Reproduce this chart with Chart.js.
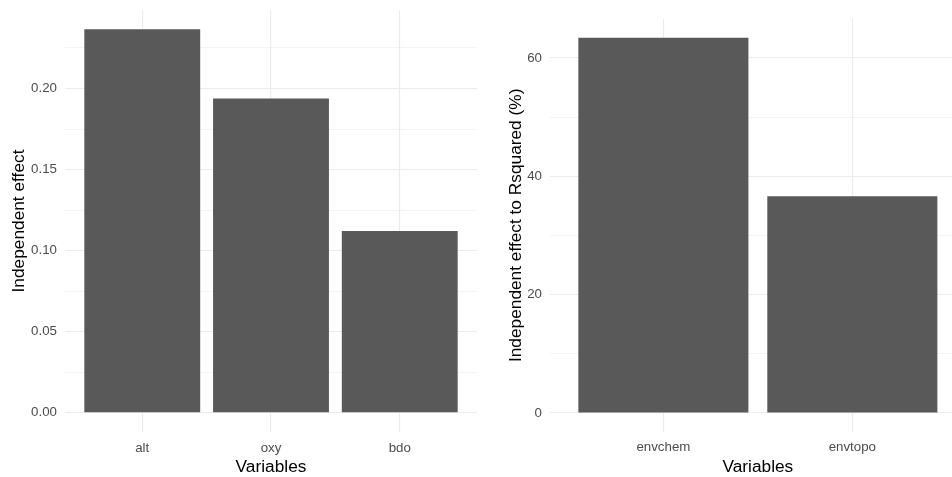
<!DOCTYPE html>
<html>
<head>
<meta charset="utf-8">
<script src="https://cdn.jsdelivr.net/npm/chart.js@4"></script>
<style>
  body { margin: 0; background: #fff; }
  #wrap { position: relative; width: 952px; height: 477px; overflow: hidden; }
  #left { position: absolute; left: 0; top: 0; }
  #right { position: absolute; left: 480px; top: 0; }
</style>
</head>
<body>
<div id="wrap">
  <canvas id="left" width="480" height="477"></canvas>
  <canvas id="right" width="500" height="477"></canvas>
</div>
<script>
// left panel data
const leftCats = ['alt', 'oxy', 'bdo'];
const leftValues = [0.2366, 0.1938, 0.1121];
const leftTicks = [0, 0.05, 0.10, 0.15, 0.20];
const leftMinor = [0.025, 0.075, 0.125, 0.175, 0.225];

// right panel data
const rightCats = ['envchem', 'envtopo'];
const rightValues = [63.4, 36.6];
const rightTicks = [0, 20, 40, 60];
const rightMinor = [10, 30, 50];

const FONT = '"Liberation Sans", Arial, sans-serif';

function makeChart(id, cats, values, ticks, minor, yTitle, opts) {
    const maxV = Math.max(...values);
    const yMin = -maxV * 0.05, yMax = maxV * 1.05;
    const allTicks = ticks.concat(minor).sort((a, b) => a - b);

    return new Chart(document.getElementById(id), {
        type: 'bar',
        data: {
            datasets: [{
                data: values.map((v, i) => ({ x: i, y: v })),
                backgroundColor: '#595959',
                borderWidth: 0,
                categoryPercentage: 1,
                barPercentage: 0.9
            }]
        },
        options: {
            responsive: false,
            animation: false,
            events: [],
            layout: { padding: { left: 0, right: opts.rightPad, top: opts.topPad, bottom: 0 } },
            plugins: { legend: { display: false }, tooltip: { enabled: false } },
            scales: {
                x: {
                    type: 'linear',
                    offset: false,
                    min: -0.6,
                    max: cats.length - 1 + 0.6,
                    afterBuildTicks: s => { s.ticks = cats.map((c, i) => ({ value: i })); },
                    afterFit: s => {
                        s.height = opts.xHeight;
                        s.paddingLeft = 0; s.paddingRight = 0;
                    },
                    border: { display: false },
                    grid: { offset: false, drawTicks: false, color: '#ebebeb', lineWidth: 1.1 },
                    ticks: {
                        autoSkip: false, maxRotation: 0, padding: 8,
                        color: '#4d4d4d', font: { family: FONT, size: 13.3 },
                        callback: v => cats[v]
                    },
                    title: {
                        display: true, text: 'Variables', color: '#000',
                        font: { family: FONT, size: 17.3 }, padding: { top: 0, bottom: -1 }
                    }
                },
                y: {
                    min: yMin,
                    max: yMax,
                    afterBuildTicks: s => { s.ticks = allTicks.map(v => ({ value: v })); },
                    afterFit: s => {
                        s.width = opts.yWidth;
                        s.paddingTop = 0; s.paddingBottom = 0;
                    },
                    border: { display: false },
                    grid: {
                        drawTicks: false, color: '#ebebeb',
                        lineWidth: c => minor.includes(c.tick.value) ? 0.6 : 1.1
                    },
                    ticks: {
                        padding: 8, color: '#4d4d4d', font: { family: FONT, size: 13.3 },
                        callback: v => minor.includes(v) ? '' : opts.fmt(v)
                    },
                    title: {
                        display: true, text: yTitle, color: '#000',
                        font: { family: FONT, size: 17.3 }, padding: { top: opts.yTitlePad, bottom: 0 }
                    }
                }
            }
        }
    });
}

makeChart('left', leftCats, leftValues, leftTicks, leftMinor, 'Independent effect', {
    rightPad: 3, topPad: 10, xHeight: 45, yWidth: 65, yTitlePad: 8.5,
    fmt: v => v.toFixed(2)
});

makeChart('right', rightCats, rightValues, rightTicks, rightMinor, 'Independent effect to Rsquared (%)', {
    rightPad: 14.3, topPad: 19, xHeight: 45.3, yWidth: 70, yTitlePad: 26,
    fmt: v => String(v)
});
</script>
</body>
</html>
